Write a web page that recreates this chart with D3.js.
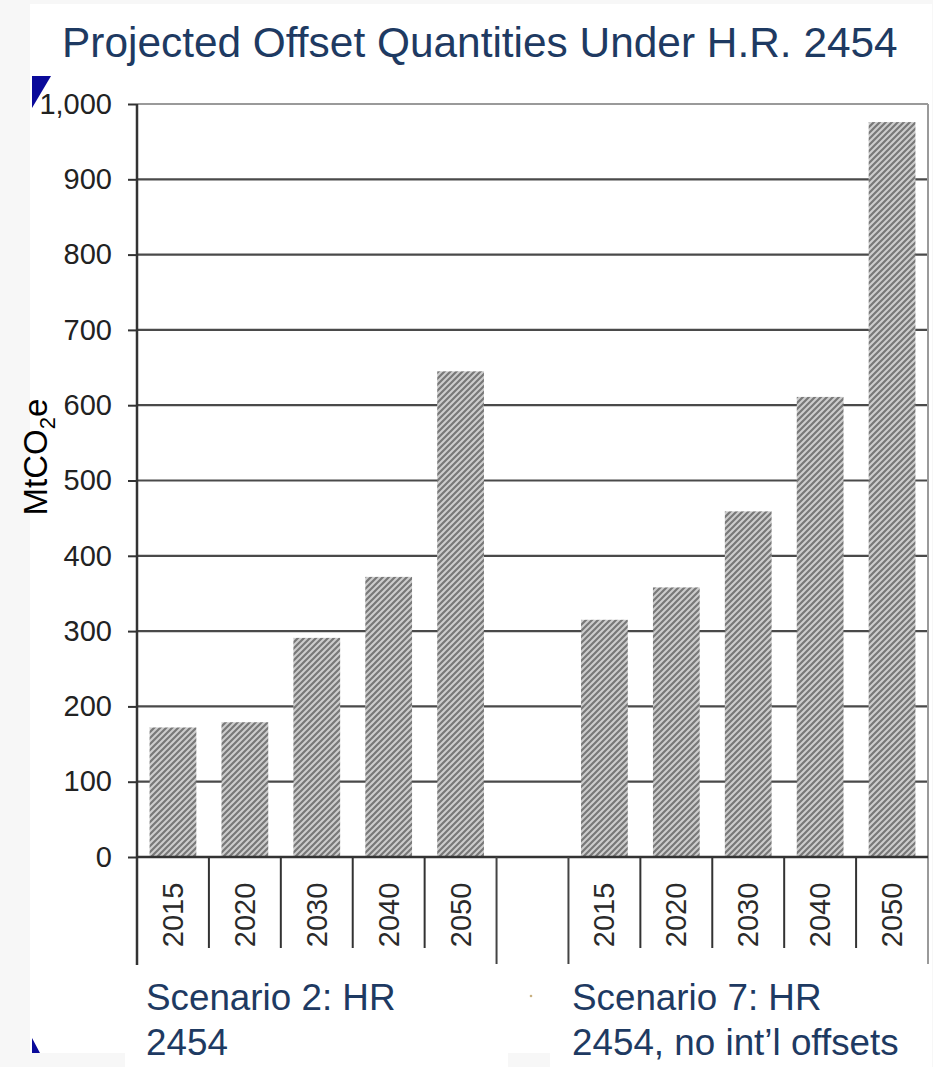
<!DOCTYPE html>
<html>
<head>
<meta charset="utf-8">
<script src="https://cdn.jsdelivr.net/npm/d3@7"></script>
<style>
  html, body { margin: 0; padding: 0; background: #f7f7f7; }
  svg { display: block; }
  text { font-family: "Liberation Sans", Arial, sans-serif; }
</style>
</head>
<body>
<svg id="chart" width="933" height="1067"></svg>
<script>
// ---- data ----
const titleText = "Projected Offset Quantities Under H.R. 2454";
const yLabel = "MtCO";
const years = ["2015", "2020", "2030", "2040", "2050"];
const scenario2 = [172, 179, 291, 372, 645];
const scenario7 = [315, 358, 459, 611, 976];
const yTicks = [0, 100, 200, 300, 400, 500, 600, 700, 800, 900, 1000];
const groupLabels = [
  ["Scenario 2: HR", "2454"],
  ["Scenario 7: HR", "2454, no int\u2019l offsets"]
];

// ---- layout ----
const svg = d3.select("#chart");
const plot = { left: 137, right: 928, top: 104, bottom: 857 };
const navy = "#1e3a62";

// slide background panels
svg.append("rect").attr("x", 30).attr("y", 4).attr("width", 902).attr("height", 1049).attr("fill", "#ffffff");
svg.append("rect").attr("x", 125).attr("y", 1050).attr("width", 383).attr("height", 17).attr("fill", "#ffffff");
svg.append("rect").attr("x", 550).attr("y", 1050).attr("width", 382).attr("height", 17).attr("fill", "#ffffff");
svg.append("polygon").attr("points", "32,76 51,76 32,108").attr("fill", "#0a0a9a");
svg.append("polygon").attr("points", "32,1053 40,1053 32,1038").attr("fill", "#0a0a9a");

// hatch pattern
const defs = svg.append("defs");
const pat = defs.append("pattern").attr("id", "hatch")
  .attr("patternUnits", "userSpaceOnUse").attr("width", 6).attr("height", 6);
pat.append("rect").attr("width", 6).attr("height", 6).attr("fill", "#cdcdcd");
pat.append("path").attr("d", "M0,6 L6,0 M-1.5,1.5 L1.5,-1.5 M4.5,7.5 L7.5,4.5")
  .attr("stroke", "#787878").attr("stroke-width", 2.2);

// scales
const keys = years.map(y => "s2-" + y).concat(["gap"], years.map(y => "s7-" + y));
const x = d3.scaleBand().domain(keys).range([plot.left, plot.right]).padding(0);
const y = d3.scaleLinear().domain([0, 1000]).range([plot.bottom, plot.top]);
const bw = x.bandwidth();

const bars = years.map((yr, i) => ({ key: "s2-" + yr, year: yr, value: scenario2[i] }))
  .concat(years.map((yr, i) => ({ key: "s7-" + yr, year: yr, value: scenario7[i] })));

// gridlines
svg.append("g").selectAll("line").data(yTicks.filter(t => t > 0)).join("line")
  .attr("x1", plot.left).attr("x2", plot.right)
  .attr("y1", d => y(d)).attr("y2", d => y(d))
  .attr("stroke", d => d === 1000 ? "#9a9a9a" : "#4a4a4a").attr("stroke-width", 2.2);

// right border
svg.append("line").attr("x1", plot.right).attr("x2", plot.right)
  .attr("y1", plot.top).attr("y2", 964).attr("stroke", "#9a9a9a").attr("stroke-width", 2);

// bars
svg.append("g").selectAll("rect").data(bars).join("rect")
  .attr("x", d => x(d.key) + bw * 0.175)
  .attr("width", bw * 0.65)
  .attr("y", d => y(d.value))
  .attr("height", d => y(0) - y(d.value))
  .attr("fill", "url(#hatch)");

// y axis with d3 axis
const yAxis = d3.axisLeft(y).tickValues(yTicks).tickFormat(d3.format(",")).tickSize(9).tickPadding(16);
const gy = svg.append("g").attr("transform", `translate(${plot.left},0)`).call(yAxis);
gy.select(".domain").remove();
gy.selectAll(".tick line").attr("stroke", "#333").attr("stroke-width", 2);
gy.selectAll(".tick text").attr("fill", "#222").style("font-size", "29px")
  .style("font-family", "'Liberation Sans', Arial, sans-serif");

// y axis line
svg.append("line").attr("x1", plot.left).attr("x2", plot.left)
  .attr("y1", plot.top).attr("y2", 965).attr("stroke", "#333").attr("stroke-width", 2.5);
// x axis line
svg.append("line").attr("x1", plot.left).attr("x2", plot.right)
  .attr("y1", plot.bottom).attr("y2", plot.bottom).attr("stroke", "#333").attr("stroke-width", 2.5);

// category dividers
const boundaries = [];
keys.forEach((k, i) => { if (i > 0) boundaries.push({ pos: x(k), long: (k === "gap" || keys[i - 1] === "gap") }); });
svg.append("g").selectAll("line").data(boundaries).join("line")
  .attr("x1", d => d.pos).attr("x2", d => d.pos)
  .attr("y1", plot.bottom).attr("y2", d => d.long ? 964 : 948)
  .attr("stroke", d => d.long ? "#444" : "#333").attr("stroke-width", 2);

// year labels
svg.append("g").selectAll("text").data(bars).join("text")
  .attr("transform", d => `translate(${x(d.key) + bw / 2 + 10},915) rotate(-90)`)
  .attr("text-anchor", "middle")
  .attr("fill", "#2a2a2a").style("font-size", "29px")
  .text(d => d.year);

// y label
const yl = svg.append("text").attr("transform", "translate(47,457) rotate(-90)")
  .attr("text-anchor", "middle").attr("fill", "#000").style("font-size", "33px");
yl.append("tspan").text(yLabel);
yl.append("tspan").attr("dy", 8).style("font-size", "22px").text("2");
yl.append("tspan").attr("dy", -8).text("e");

// title
const title = svg.append("text").attr("x", 62).attr("y", 57).attr("fill", navy)
  .style("font-size", "41px").text(titleText);
const tw = title.node().getComputedTextLength();
title.style("font-size", (41 * 836 / tw) + "px");

// group labels
const groupX = [146, 572];
groupLabels.forEach((lines, gi) => {
  lines.forEach((ln, li) => {
    svg.append("text").attr("x", groupX[gi]).attr("y", 1010 + li * 45)
      .attr("fill", navy).style("font-size", "36.8px").text(ln);
  });
});
svg.append("circle").attr("cx", 531).attr("cy", 996).attr("r", 1.3).attr("fill", "#c8b080");
</script>
</body>
</html>
